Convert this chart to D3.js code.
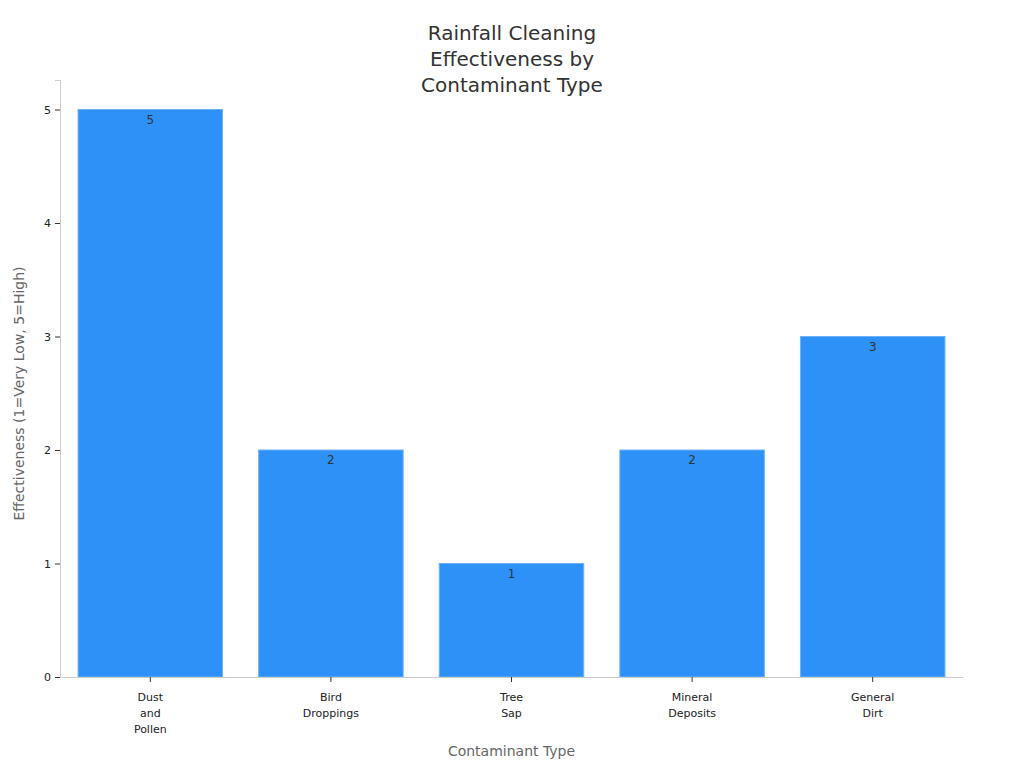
<!DOCTYPE html>
<html lang="en">
<head>
    <title>Rainfall Cleaning</title>
    <script src="https://d3js.org/d3.v7.min.js"></script>
    <style>
        body { margin: 0; background: #fff; }
        text { font-family: "DejaVu Sans", sans-serif; }
    </style>
</head>
<body>
    <svg width="1024" height="768" id="mainsvg"></svg>
    <script>
        const categories = ['Dust\nand\nPollen', 'Bird\nDroppings', 'Tree\nSap', 'Mineral\nDeposits', 'General\nDirt']
        const values = [5, 2, 1, 2, 3]
        const yTicks = [0, 1, 2, 3, 4, 5]
        const titleLines = ['Rainfall Cleaning', 'Effectiveness by', 'Contaminant Type']

        const svg = d3.select('#mainsvg')
        const margin = {top: 80, right: 61, bottom: 91, left: 60}
        const innerWidth = 1024 - margin.left - margin.right
        const innerHeight = 768 - margin.top - margin.bottom

        const g = svg.append('g').attr('transform', `translate(${margin.left}, ${margin.top})`)

        const xScale = d3.scaleBand().domain(categories).range([0, innerWidth])
            .paddingInner(0.2).paddingOuter(0.1)
        const yScale = d3.scaleLinear().domain([0, 5.26]).range([innerHeight, 0])

        // bars
        g.selectAll('rect').data(values).join('rect')
            .attr('x', (d, i) => xScale(categories[i]))
            .attr('y', d => yScale(d))
            .attr('width', xScale.bandwidth())
            .attr('height', d => innerHeight - yScale(d))
            .attr('fill', '#2e91f8')
            .attr('stroke', '#6cb2fa')
            .attr('stroke-width', 1)

        g.selectAll('.val').data(values).join('text')
            .attr('class', 'val')
            .attr('x', (d, i) => xScale(categories[i]) + xScale.bandwidth() / 2)
            .attr('y', d => yScale(d) + 14)
            .attr('text-anchor', 'middle')
            .attr('font-size', 12)
            .attr('fill', '#333')
            .text(d => d)

        // y axis
        const yAxisG = g.append('g').call(d3.axisLeft(yScale).tickValues(yTicks).tickFormat(d3.format('d')).tickSize(5).tickPadding(4))
        yAxisG.select('.domain').attr('stroke', '#ccc')
        yAxisG.selectAll('.tick line').attr('stroke', '#333')
        yAxisG.selectAll('.tick text').attr('font-size', 11).attr('fill', '#222')
            .style('font-family', '"DejaVu Sans", sans-serif')

        // x axis
        const xAxisG = g.append('g').attr('transform', `translate(0, ${innerHeight})`)
            .call(d3.axisBottom(xScale).tickSize(5).tickSizeOuter(0).tickPadding(11))
        xAxisG.select('.domain').attr('stroke', '#ccc')
        xAxisG.selectAll('.tick line').attr('stroke', '#333')
        xAxisG.selectAll('.tick text').each(function (d) {
            const t = d3.select(this).text(null).attr('font-size', 11).attr('fill', '#222')
                .style('font-family', '"DejaVu Sans", sans-serif')
            d.split('\n').forEach((line, i) => {
                t.append('tspan').attr('x', 0).attr('dy', i === 0 ? '0.71em' : '1.45em').text(line)
            })
        })

        // axis labels
        svg.append('text').text('Contaminant Type')
            .attr('x', margin.left + innerWidth / 2).attr('y', 756)
            .attr('text-anchor', 'middle').attr('font-size', 14).attr('fill', '#666')
        svg.append('text').text('Effectiveness (1=Very Low, 5=High)')
            .attr('transform', `translate(24, ${margin.top + innerHeight / 2 + 15}) rotate(-90)`)
            .attr('text-anchor', 'middle').attr('font-size', 14).attr('fill', '#666')

        // title
        svg.append('text').attr('text-anchor', 'middle').attr('font-size', 20).attr('fill', '#333')
            .selectAll('tspan').data(titleLines).join('tspan')
            .attr('x', 512).attr('y', (d, i) => 40 + i * 26).text(d => d)
    </script>
</body>
</html>
